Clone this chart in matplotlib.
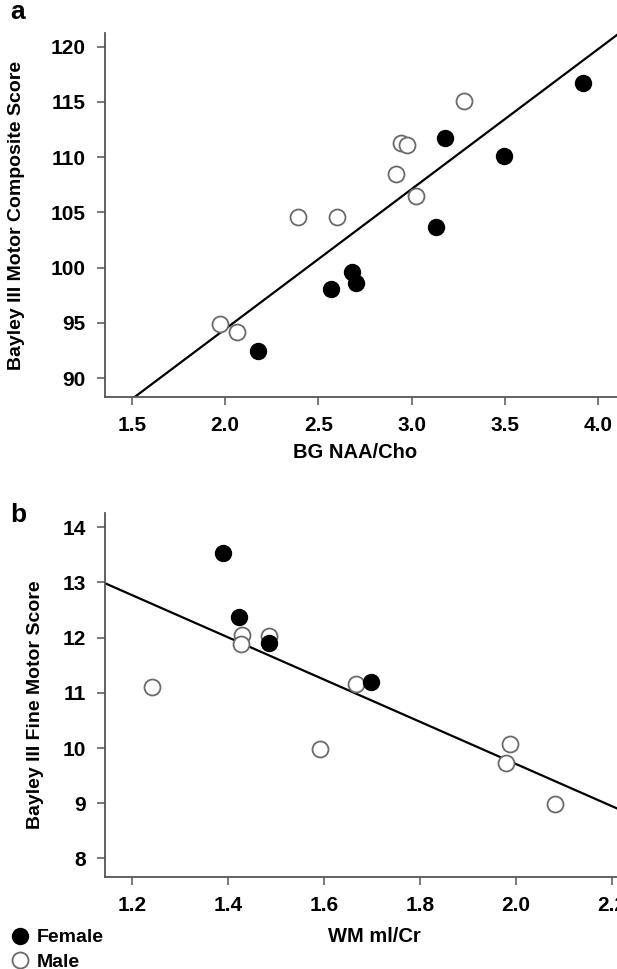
import numpy as np
import matplotlib
matplotlib.use("Agg")
import matplotlib.pyplot as plt
from matplotlib.lines import Line2D

plt.rcParams["font.family"] = ["Liberation Sans", "DejaVu Sans"]
plt.rcParams["font.weight"] = "bold"

# Panel a: BG NAA/Cho vs Bayley III Motor Composite Score
a_female_x = [2.175, 2.567, 2.678, 2.701, 3.13, 3.18, 3.494, 3.919]
a_female_y = [92.5, 98.1, 99.6, 98.6, 103.7, 111.7, 110.1, 116.7]
a_male_x = [1.973, 2.066, 2.389, 2.598, 2.916, 2.943, 2.973, 3.021, 3.28]
a_male_y = [94.9, 94.2, 104.6, 104.6, 108.5, 111.3, 111.1, 106.5, 115.1]
a_fit = (12.68, 69.08)  # slope, intercept
a_xticks = [1.5, 2.0, 2.5, 3.0, 3.5, 4.0]
a_yticks = [90, 95, 100, 105, 110, 115, 120]

# Panel b: WM mI/Cr vs Bayley III Fine Motor Score
b_female_x = [1.388, 1.422, 1.484, 1.697]
b_female_y = [13.54, 12.37, 11.91, 11.19]
b_male_x = [1.240, 1.429, 1.426, 1.485, 1.591, 1.666, 1.987, 1.980, 2.082]
b_male_y = [11.11, 12.05, 11.88, 12.03, 9.99, 11.16, 10.07, 9.72, 8.99]
b_fit = (-3.82, 17.35)
b_xticks = [1.2, 1.4, 1.6, 1.8, 2.0, 2.2]
b_yticks = [8, 9, 10, 11, 12, 13, 14]

W, H = 617, 969
fig = plt.figure(figsize=(W / 100, H / 100), dpi=100)

axis_col = "#555555"
open_col = "#6a6a6a"
ms = 11.5


def px_axes(left, top, right, bottom):
    return fig.add_axes([left / W, 1 - bottom / H, (right - left) / W, (bottom - top) / H])


def style(ax, xticks, yticks, fmt):
    for s in ["top", "right"]:
        ax.spines[s].set_visible(False)
    for s in ["left", "bottom"]:
        ax.spines[s].set_color(axis_col)
        ax.spines[s].set_linewidth(1.3)
    ax.set_xticks(xticks)
    ax.set_xticklabels([fmt.format(v) for v in xticks])
    ax.set_yticks(yticks)
    ax.tick_params(direction="out", length=6, width=1.1, color=axis_col,
                   labelsize=15, pad=8)
    for t in ax.get_xticklabels() + ax.get_yticklabels():
        t.set_fontweight("bold")


def panel(ax, fx, fy, mx, my, fit):
    xl = ax.get_xlim()
    xs = np.array([xl[0] - 1, xl[1] + 1])
    ax.plot(xs, fit[0] * xs + fit[1], color="black", lw=1.6, zorder=2)
    ax.plot(mx, my, "o", ms=ms, mfc="white", mec=open_col, mew=1.3,
            ls="none", zorder=3)
    ax.plot(fx, fy, "o", ms=ms, mfc="black", mec="black", ls="none", zorder=4)


ax1 = px_axes(105, 32.7, 645, 396.7)
ax1.set_xlim(1.357, 4.25)
ax1.set_ylim(88.33, 121.27)
panel(ax1, a_female_x, a_female_y, a_male_x, a_male_y, a_fit)
ax1.set_xlim(1.357, 4.25)
style(ax1, a_xticks, a_yticks, "{:.1f}")

ax2 = px_axes(105, 513.3, 636, 876.7)
ax2.set_xlim(1.143, 2.25)
ax2.set_ylim(7.67, 14.25)
panel(ax2, b_female_x, b_female_y, b_male_x, b_male_y, b_fit)
ax2.set_xlim(1.143, 2.25)
style(ax2, b_xticks, b_yticks, "{:.1f}")

# panel letters and axis titles
fig.text(10 / W, 1 - 12 / H, "a", fontsize=19, fontweight="bold", va="center")
fig.text(10 / W, 1 - 515 / H, "b", fontsize=19, fontweight="bold", va="center")
fig.text(17 / W, 1 - 215 / H, "Bayley III Motor Composite Score", rotation=90,
         fontsize=14, fontweight="bold", ha="center", va="center")
fig.text(36 / W, 1 - 705 / H, "Bayley III Fine Motor Score", rotation=90,
         fontsize=14, fontweight="bold", ha="center", va="center")
fig.text(355 / W, 1 - 452 / H, "BG NAA/Cho", fontsize=14.5, fontweight="bold",
         ha="center", va="center")
fig.text(374 / W, 1 - 936 / H, "WM ml/Cr", fontsize=14.5, fontweight="bold",
         ha="center", va="center")

# legend
handles = [
    Line2D([], [], marker="o", ls="none", ms=ms, mfc="black", mec="black"),
    Line2D([], [], marker="o", ls="none", ms=ms, mfc="white", mec=open_col, mew=1.3),
]
fig.legend(handles, ["Female", "Male"], loc="lower left",
           bbox_to_anchor=(-0.012, -0.016), frameon=False,
           handletextpad=0.15, labelspacing=0.35, borderpad=0.2,
           handlelength=1.4, prop={"weight": "bold", "size": 14})

fig.savefig("out.png", dpi=100)
